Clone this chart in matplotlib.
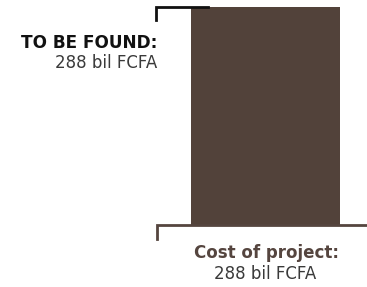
import matplotlib
matplotlib.use("Agg")
import matplotlib.pyplot as plt

plt.rcParams["font.family"] = ["DejaVu Sans"]

# data (billions FCFA)
cost_label = "Cost of project:"
cost_value = 288
found_label = "TO BE FOUND:"
found_value = 288
unit = "bil FCFA"

COR_BARRA = "#52423a"
COR_CUSTO = "#55453f"
COR_TEXTO = "#3a3a3a"

W, H = 367, 287
fig = plt.figure(figsize=(W / 100, H / 100), dpi=100)

# axes holding the bar, placed in pixel terms
bx0, bx1, by_top, by_bot = 191, 340, 7, 225
ax = fig.add_axes([bx0 / W, (H - by_bot) / H, (bx1 - bx0) / W, (by_bot - by_top) / H])
ax.set_xlim(0, 1)
ax.set_ylim(0, cost_value)
ax.axis("off")

ax.bar([0.5], [cost_value], width=1.0, color=COR_BARRA, linewidth=0)

px_y = cost_value / (by_bot - by_top)   # data units per pixel (y)
px_x = 1.0 / (bx1 - bx0)                # data units per pixel (x)

# top bracket: amount still to be found
fx0 = (156 - bx0) * px_x
fx1 = (208 - bx0) * px_x
ax.plot([fx0, fx0, fx1], [found_value - 13 * px_y, found_value, found_value],
        color="#111111", linewidth=2, clip_on=False, solid_joinstyle="miter")

# bottom bracket: total cost
cx0 = (157 - bx0) * px_x
cx1 = (367 - bx0) * px_x
ax.plot([cx0, cx0, cx1], [-14 * px_y, 0, 0],
        color=COR_CUSTO, linewidth=2, clip_on=False, solid_joinstyle="miter")

# labels
fig.text(157 / W, 1 - 48 / H, found_label, ha="right", va="baseline",
         fontsize=12.2, fontweight="bold", color="#111111")
fig.text(157 / W, 1 - 68 / H, f"{found_value} {unit}", ha="right", va="baseline",
         fontsize=12, color=COR_TEXTO)

fig.text(267 / W, 1 - 258 / H, cost_label, ha="center", va="baseline",
         fontsize=12, fontweight="bold", color=COR_CUSTO)
fig.text(265 / W, 1 - 279 / H, f"{cost_value} {unit}", ha="center", va="baseline",
         fontsize=12, color=COR_TEXTO)

fig.savefig("out.png", dpi=100)
